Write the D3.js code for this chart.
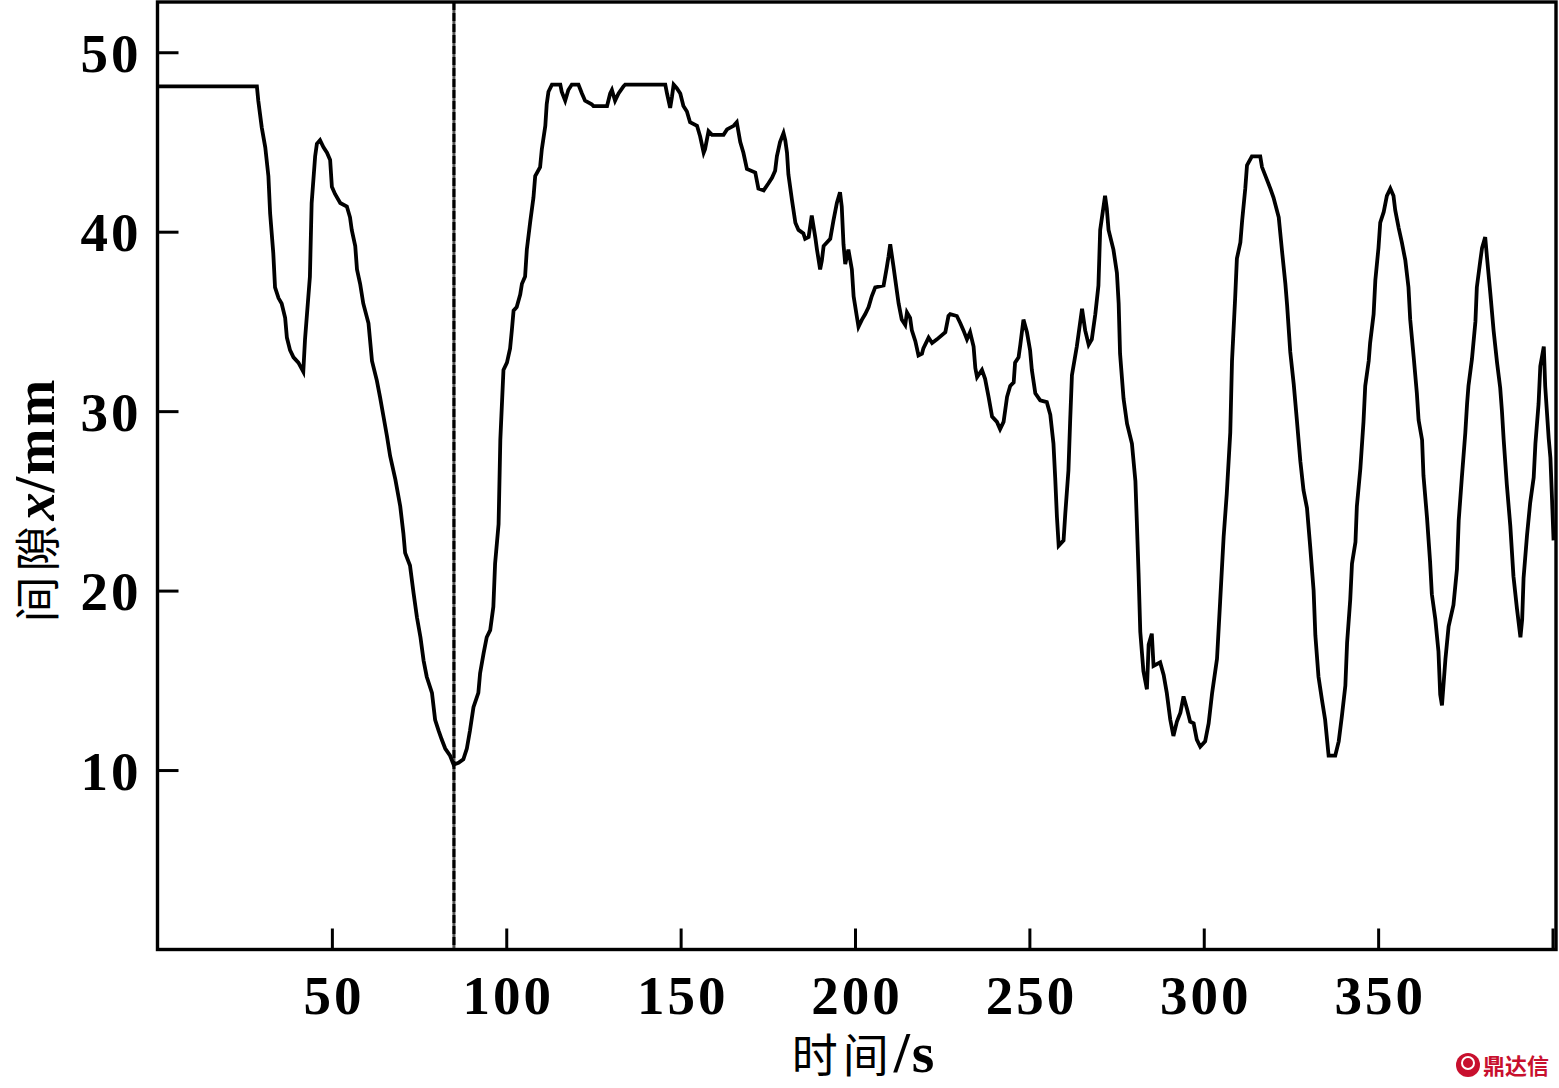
<!DOCTYPE html>
<html><head><meta charset="utf-8">
<script src="https://cdn.jsdelivr.net/npm/d3@7"></script>
<style>
html,body{margin:0;padding:0;background:#fff;}
svg{display:block;}
</style></head>
<body>
<svg id="chart" width="1559" height="1088"></svg>
<script>
// ---- data ----
const timeS = [0,28.5,28.9,29.9,30.9,31.8,32.3,33.2,33.7,34.7,35.6,36.6,37.1,38.0,39.0,40.4,41.8,42.3,43.7,44.2,45.2,45.7,46.6,47.6,48.6,49.5,50.0,50.9,52.4,54.3,55.2,55.7,56.7,57.2,58.1,59.0,60.5,61.5,62.9,63.8,64.8,65.8,66.7,68.2,69.6,70.5,71.0,72.4,73.4,74.4,75.4,76.3,77.2,78.7,79.6,80.6,81.5,82.5,83.9,84.9,86.3,87.7,88.7,89.6,90.6,92.0,92.5,93.5,94.4,95.4,96.3,96.8,97.8,98.3,99.2,100.2,101.1,101.6,102.1,103.0,104.0,104.5,105.4,105.9,106.9,107.8,108.3,109.7,110.2,111.2,111.6,112.1,113.1,115.5,115.9,116.9,117.8,118.8,120.7,121.7,122.6,124.5,125.0,128.9,129.8,130.3,131.2,132.2,133.6,134.1,145.6,146.1,147.0,147.5,148.0,148.9,149.9,150.8,151.8,152.7,154.7,155.6,156.6,157.0,158.0,159.0,162.3,163.3,165.2,166.1,167.1,168.0,169.0,171.4,172.3,173.8,175.2,176.2,177.1,177.6,178.5,179.5,180.0,180.5,180.9,181.9,182.9,183.8,185.2,185.7,186.7,187.6,188.6,189.1,190.0,190.5,191.0,192.9,193.8,194.8,195.7,196.2,196.7,197.2,198.1,199.1,199.6,200.5,201.0,202.0,202.9,203.9,204.8,205.8,208.2,209.1,209.6,210.1,211.0,212.0,212.5,213.4,214.4,214.9,215.8,216.3,217.3,218.2,219.2,219.6,221.1,222.1,223.5,225.9,226.8,227.3,229.2,230.2,231.1,232.1,233.0,234.0,234.5,235.0,236.4,237.3,238.3,239.3,240.7,241.6,242.6,243.6,244.5,245.5,245.9,246.9,247.4,248.3,249.3,250.2,250.7,251.7,253.1,255.0,256.0,256.9,257.4,257.9,258.4,259.8,260.3,261.2,261.7,262.2,263.6,264.1,265.1,266.0,267.0,267.9,268.9,269.8,270.3,271.7,272.2,272.7,274.1,275.1,275.6,276.0,277.0,278.0,279.4,280.4,280.8,281.3,281.8,282.7,283.7,284.2,285.1,285.6,287.5,288.5,289.4,290.4,291.3,292.3,293.3,294.2,295.2,296.1,297.1,298.0,299.0,300.4,301.4,302.4,303.8,304.7,305.7,306.6,307.6,308.1,309.0,309.5,310.5,311.0,311.9,312.4,313.8,316.2,316.7,318.1,319.1,320.0,321.5,322.4,323.4,323.9,324.8,325.8,326.7,327.7,328.6,329.6,330.5,331.5,332.0,332.9,333.9,334.8,335.8,337.7,338.7,339.6,340.6,341.1,342.0,342.5,343.5,343.9,344.9,345.8,346.3,347.3,347.7,348.7,349.2,350.1,350.6,351.6,352.5,353.5,354.4,354.9,355.9,356.8,357.8,358.7,359.2,360.2,361.1,361.6,362.6,363.0,364.0,364.9,365.4,366.4,367.3,367.8,368.3,369.3,370.2,371.6,372.6,373.1,374.0,375.0,375.5,375.9,376.9,377.9,378.3,379.3,379.8,380.7,381.2,382.2,383.1,384.1,385.0,385.5,386.0,386.9,387.9,388.8,389.8,390.8,391.3,391.7,392.7,393.6,394.6,395.1,396.0,396.5,397.5,397.9,398.9,399.4,399.8,400.3];
const gapMm = [48.1,48.1,47.3,45.8,44.7,43.1,41.0,38.8,36.9,36.3,36.0,35.2,34.1,33.4,33.0,32.7,32.2,34.0,37.5,41.6,44.2,44.9,45.1,44.7,44.4,44.0,42.5,42.1,41.6,41.4,40.8,40.1,39.2,37.9,37.1,36.0,34.9,32.8,31.7,30.8,29.7,28.6,27.5,26.2,24.7,23.2,22.1,21.4,19.9,18.5,17.4,16.1,15.2,14.3,12.8,12.2,11.7,11.2,10.8,10.3,10.4,10.6,11.2,12.2,13.5,14.3,15.4,16.5,17.4,17.8,19.1,21.5,23.7,28.4,32.3,32.7,33.5,34.5,35.6,35.8,36.5,37.1,37.5,39.0,40.6,41.9,43.1,43.6,44.6,45.9,47.1,47.8,48.2,48.2,47.8,47.3,47.9,48.2,48.2,47.7,47.3,47.1,47.0,47.0,47.7,47.9,47.3,47.7,48.1,48.2,48.2,47.7,46.9,47.5,48.2,48.0,47.7,47.0,46.7,46.1,45.9,45.3,44.4,44.6,45.6,45.4,45.4,45.7,45.9,46.1,45.0,44.4,43.5,43.3,42.4,42.3,42.7,43.0,43.4,44.2,45.0,45.5,45.1,44.4,43.2,41.8,40.5,40.1,39.9,39.6,39.7,40.9,39.7,39.0,37.9,38.4,39.2,39.6,40.6,41.6,42.2,41.4,39.3,38.2,39.0,37.9,36.4,35.3,34.7,35.1,35.4,35.8,36.4,36.9,37.0,38.0,38.6,39.3,38.1,36.7,36.0,35.1,34.8,35.5,35.2,34.5,33.9,33.1,33.2,33.5,34.1,33.8,34.0,34.4,35.3,35.4,35.3,34.9,34.5,34.0,34.4,33.6,32.4,31.9,32.3,31.8,30.8,29.7,29.4,29.0,29.4,30.8,31.4,31.6,32.7,33.0,33.7,35.1,34.4,33.4,32.3,31.0,30.6,30.5,29.8,28.2,26.3,24.1,22.5,22.8,24.3,26.7,29.5,32.0,33.6,34.3,35.7,34.5,33.7,34.0,35.4,37.0,40.1,42.0,41.3,40.1,39.0,37.7,36.0,33.2,30.7,29.3,28.2,26.1,23.9,21.0,17.7,15.5,14.5,17.0,17.6,15.8,16.0,15.3,14.3,12.8,11.9,12.7,13.2,14.1,13.4,12.7,12.6,11.7,11.3,11.6,12.6,14.3,16.2,19.4,23.0,25.4,28.8,32.8,36.3,38.5,39.4,40.6,42.4,43.7,44.2,44.2,43.6,42.9,42.4,41.9,40.8,39.0,37.1,35.9,33.3,31.5,29.5,27.2,25.6,24.6,22.5,20.0,17.5,15.2,13.9,12.8,10.8,10.8,11.6,13.0,14.7,17.1,19.5,21.5,22.7,24.7,26.8,29.4,31.4,32.8,33.8,35.4,37.3,39.1,40.5,41.1,42.0,42.4,42.0,41.2,40.2,39.4,38.4,36.9,35.1,33.0,31.0,29.5,28.4,26.4,24.1,21.6,19.8,18.4,16.6,14.2,13.6,16.2,18.0,19.2,21.2,23.9,26.3,28.8,30.4,31.4,32.9,35.0,36.9,38.4,39.1,39.7,38.6,36.5,34.5,32.7,31.3,30.0,28.4,25.9,23.6,20.8,19.0,17.4,18.4,20.7,23.1,24.9,26.3,28.2,30.4,32.5,33.6,31.4,28.5,27.4,25.4,22.8];
const xTicks = [50,100,150,200,250,300,350,400];
const xTickLabels = ["50","100","150","200","250","300","350",""];
const yTicks = [10,20,30,40,50];
const yTickLabels = ["10","20","30","40","50"];
const markerTime = [85];
const xTitleCn = "时间";
const xTitleUnit = "/s";
const yTitleCn = "间隙";
const yTitleVar = "x";
const yTitleUnit = "/mm";
const watermark = "鼎达信";

// ---- layout ----
const L = 157.5, R = 1556, T = 2, B = 949.5;
const svg = d3.select("#chart");
const x = d3.scaleLinear().domain([0, 401]).range([L, R]);
const y = d3.scaleLinear().domain([0, 52.8]).range([B, T]);
const serif = "'Liberation Serif','Times New Roman',serif";
const cjk = "'Noto Sans CJK SC','Noto Sans CJK JP',sans-serif";

const data = timeS.map((t, i) => ({t, v: gapMm[i]}));

svg.append("defs").append("clipPath").attr("id","clip")
  .append("rect").attr("x", L).attr("y", T).attr("width", R - L).attr("height", B - T);

// dashed marker line
const mk = svg.append("g");
markerTime.forEach(m => {
  mk.append("line").attr("x1", x(m)).attr("x2", x(m)).attr("y1", T).attr("y2", B)
    .attr("stroke", "#555").attr("stroke-width", 3);
  mk.append("line").attr("x1", x(m)).attr("x2", x(m)).attr("y1", T).attr("y2", B)
    .attr("stroke", "#000").attr("stroke-width", 3).attr("stroke-dasharray", "8,3");
});

// data line
const line = d3.line().x(d => x(d.t)).y(d => y(d.v)).curve(d3.curveLinear);
svg.append("path").datum(data).attr("clip-path","url(#clip)")
  .attr("d", line).attr("fill", "none").attr("stroke", "#000")
  .attr("stroke-width", 3.8).attr("stroke-linejoin", "miter");

// axes (ticks inward)
const xAxis = d3.axisBottom(x).tickValues(xTicks).tickSize(-21)
  .tickFormat((d, i) => xTickLabels[i]).tickPadding(30);
const gx = svg.append("g").attr("transform", `translate(0,${B})`).call(xAxis);
gx.select(".domain").remove();
gx.selectAll(".tick line").attr("stroke", "#000").attr("stroke-width", 3);
gx.selectAll(".tick text").attr("font-family", serif).attr("font-weight", "bold")
  .attr("font-size", 55).attr("fill", "#000").attr("dy", "0.71em").attr("y", 25)
  .attr("letter-spacing", 3).attr("dx", 1.5);

const yAxis = d3.axisLeft(y).tickValues(yTicks).tickSize(-21)
  .tickFormat((d, i) => yTickLabels[i]).tickPadding(20);
const gy = svg.append("g").attr("transform", `translate(${L},0)`).call(yAxis);
gy.select(".domain").remove();
gy.selectAll(".tick line").attr("stroke", "#000").attr("stroke-width", 3);
gy.selectAll(".tick text").attr("font-family", serif).attr("font-weight", "bold")
  .attr("font-size", 55).attr("fill", "#000").attr("x", -16).attr("dy", "0.35em")
  .attr("letter-spacing", 3);

// frame
svg.append("rect").attr("x", L).attr("y", T).attr("width", R - L).attr("height", B - T)
  .attr("fill", "none").attr("stroke", "#000").attr("stroke-width", 3.4);

// x title
const xt = svg.append("text").attr("x", 864).attr("y", 1072).attr("text-anchor", "middle")
  .attr("fill", "#000");
xt.append("tspan").attr("font-family", cjk).attr("font-size", 46).attr("letter-spacing", 5).text(xTitleCn);
xt.append("tspan").attr("font-family", serif).attr("font-weight", "bold").attr("font-size", 58)
  .attr("letter-spacing", 2).text(xTitleUnit);

// y title (rotated)
const yt = svg.append("text").attr("transform", "translate(54,500) rotate(-90)")
  .attr("text-anchor", "middle").attr("fill", "#000");
yt.append("tspan").attr("font-family", cjk).attr("font-size", 46).attr("letter-spacing", 5).text(yTitleCn);
yt.append("tspan").attr("font-family", serif).attr("font-weight", "bold").attr("font-style", "italic")
  .attr("font-size", 56).text(yTitleVar);
yt.append("tspan").attr("font-family", serif).attr("font-weight", "bold").attr("font-size", 56)
  .attr("letter-spacing", 2).text(yTitleUnit);

// watermark
const wm = svg.append("g");
wm.append("circle").attr("cx", 1468).attr("cy", 1065).attr("r", 12).attr("fill", "#c8102e");
wm.append("circle").attr("cx", 1468).attr("cy", 1063).attr("r", 6).attr("fill", "none")
  .attr("stroke", "#fff").attr("stroke-width", 2);
wm.append("text").attr("x", 1483).attr("y", 1074).attr("font-family", cjk).attr("font-weight", "bold")
  .attr("font-size", 22).attr("fill", "#c8102e").text(watermark);
</script>
</body></html>
